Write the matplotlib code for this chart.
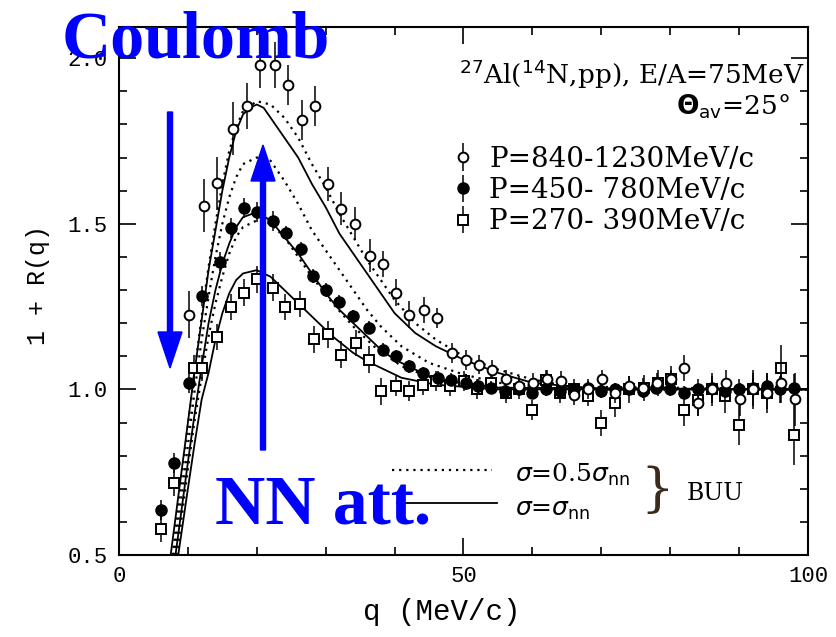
import matplotlib
matplotlib.use('Agg')
import matplotlib.pyplot as plt
from matplotlib.patches import FancyArrow
from matplotlib.transforms import IdentityTransform

W, H = 837, 637

# data: (q, 1+R(q), error)
q_hi = [10.1, 12.4, 14.2, 16.6, 18.6, 20.5, 22.7, 24.5, 26.5, 28.4, 30.3, 32.2, 34.2, 36.5, 38.3,
        40.2, 42.1, 44.3, 46.2, 48.3, 50.3, 52.3, 54.2, 56.1, 58.1, 60.1, 62.1, 64.2, 66.1, 68.1,
        70.1, 72.0, 74.0, 76.1, 78.1, 80.1, 82.0, 84.1, 86.0, 88.1, 90.1, 92.0, 94.0, 96.1, 98.1]
r_hi = [1.226, 1.555, 1.622, 1.787, 1.855, 1.979, 1.979, 1.918, 1.814, 1.855, 1.62, 1.545, 1.50,
        1.403, 1.378, 1.292, 1.226, 1.24, 1.216, 1.11, 1.09, 1.075, 1.06, 1.03, 1.01, 1.02, 1.03,
        1.024, 0.984, 1.0, 1.03, 0.99, 1.01, 1.004, 1.02, 1.03, 1.065, 0.96, 1.0, 1.02, 0.97, 1.0,
        0.99, 1.02, 0.97]
e_hi = [0.07, 0.08, 0.08, 0.08, 0.07, 0.07, 0.07, 0.06, 0.06, 0.06, 0.05, 0.05, 0.05, 0.05, 0.04,
        0.04, 0.04, 0.04, 0.03, 0.03, 0.03, 0.03, 0.03, 0.03, 0.03, 0.03, 0.03, 0.03, 0.03, 0.03,
        0.03, 0.03, 0.03, 0.03, 0.03, 0.03, 0.04, 0.04, 0.04, 0.04, 0.05, 0.05, 0.05, 0.06, 0.08]

q_mid = [6.1, 8.0, 10.1, 12.1, 14.6, 16.3, 18.1, 20.0, 22.3, 24.2, 26.4, 28.1, 30.1, 32.0, 34.0,
         36.3, 38.3, 40.2, 42.1, 44.1, 46.3, 48.2, 50.4, 52.1, 54, 56, 58, 60, 62, 64, 66, 68,
         70, 72, 74, 76, 78, 80, 82, 84, 86, 88, 90, 92, 94, 96, 98]
r_mid = [0.635, 0.777, 1.019, 1.282, 1.386, 1.488, 1.548, 1.536, 1.509, 1.473, 1.424, 1.342, 1.30,
         1.265, 1.221, 1.186, 1.12, 1.10, 1.07, 1.049, 1.034, 1.029, 1.019, 1.01, 1.005, 0.995,
         1.0, 0.99, 1.0, 0.995, 1.0, 1.005, 0.995, 1.0, 1.0, 0.995, 1.005, 1.0, 0.99, 1.0, 1.005,
         0.995, 1.0, 1.005, 1.01, 1.0, 1.005]
e_mid = [0.03, 0.03, 0.03, 0.03, 0.03, 0.03, 0.03, 0.03, 0.03, 0.02, 0.02, 0.02, 0.02, 0.02, 0.02,
         0.02, 0.02, 0.02, 0.02, 0.02, 0.02, 0.02, 0.02, 0.02, 0.02, 0.02, 0.02, 0.02, 0.02, 0.02,
         0.02, 0.02, 0.02, 0.02, 0.02, 0.02, 0.02, 0.02, 0.02, 0.03, 0.03, 0.03, 0.03, 0.03, 0.04,
         0.04, 0.04]

q_lo = [6.1, 8.0, 10.9, 12.1, 14.2, 16.3, 18.2, 20.1, 22.3, 24.1, 26.2, 28.3, 30.3, 32.2, 34.4,
        36.3, 38.0, 40.2, 42.1, 44.1, 46.0, 48.1, 50.1, 52.0, 54.0, 56.1, 58.0, 60.0, 62.0, 64.0,
        66.0, 68.0, 70.0, 72.0, 74.0, 76.2, 78.2, 80.1, 82.0, 84.0, 86.0, 88.0, 90.0, 92.0, 94.0,
        96.1, 98.0]
r_lo = [0.58, 0.717, 1.065, 1.065, 1.158, 1.248, 1.292, 1.332, 1.307, 1.248, 1.257, 1.151, 1.166,
        1.105, 1.14, 1.09, 0.994, 1.009, 0.994, 1.014, 1.024, 1.01, 1.024, 1.0, 1.02, 0.99, 1.0,
        0.938, 1.029, 0.99, 1.0, 0.98, 0.898, 0.958, 1.0, 1.004, 1.019, 1.03, 0.938, 0.969, 1.0,
        0.98, 0.893, 1.0, 0.99, 1.065, 0.863]
e_lo = [0.04, 0.04, 0.04, 0.04, 0.04, 0.04, 0.04, 0.04, 0.04, 0.04, 0.04, 0.04, 0.04, 0.04, 0.04,
        0.04, 0.04, 0.03, 0.03, 0.03, 0.03, 0.03, 0.03, 0.03, 0.03, 0.03, 0.03, 0.03, 0.03, 0.03,
        0.03, 0.03, 0.04, 0.04, 0.04, 0.04, 0.04, 0.04, 0.05, 0.05, 0.05, 0.05, 0.06, 0.06, 0.06,
        0.07, 0.09]

# BUU curves
qs_hi = [7.5, 8, 9, 10, 11, 12, 13, 14, 15, 16, 17, 18, 19, 20, 21, 22, 24, 26, 28, 30, 32, 34,
         36, 38, 40, 43, 46, 50, 55, 60, 65, 70, 100]
solid_hi = [0.5, 0.58, 0.74, 0.90, 1.06, 1.21, 1.36, 1.48, 1.60, 1.70, 1.78, 1.83, 1.85, 1.86,
            1.85, 1.82, 1.76, 1.70, 1.62, 1.55, 1.47, 1.41, 1.35, 1.29, 1.23, 1.17, 1.13, 1.09,
            1.05, 1.02, 1.01, 1.0, 1.0]
qd_hi = [7.8, 9, 10, 11, 12, 13, 14, 15, 16, 17, 18, 20, 22, 24, 26, 28, 30, 32, 34, 36, 38, 40,
         43, 46, 50, 55, 60, 65, 70, 100]
dot_hi = [0.5, 0.72, 0.89, 1.06, 1.22, 1.37, 1.50, 1.62, 1.72, 1.79, 1.84, 1.87, 1.86, 1.82,
          1.76, 1.68, 1.61, 1.53, 1.46, 1.39, 1.33, 1.27, 1.20, 1.15, 1.10, 1.06, 1.03, 1.01,
          1.0, 1.0]

qs_mid = [8.2, 10, 11, 12, 13, 14, 15, 16, 17, 18, 20, 22, 24, 26, 28, 30, 32, 34, 36, 38, 40,
          42, 45, 48, 55, 100]
solid_mid = [0.5, 0.78, 0.93, 1.07, 1.20, 1.30, 1.38, 1.44, 1.49, 1.52, 1.535, 1.51, 1.46, 1.41,
             1.35, 1.29, 1.24, 1.20, 1.16, 1.12, 1.09, 1.07, 1.04, 1.025, 1.005, 1.0]
qd_mid = [8.0, 10, 11, 12, 13, 14, 15, 16, 17, 18, 20, 22, 24, 26, 28, 31, 34, 36, 38, 41, 45,
          50, 55, 60, 100]
dot_mid = [0.5, 0.83, 1.0, 1.15, 1.28, 1.40, 1.50, 1.58, 1.64, 1.68, 1.70, 1.69, 1.63, 1.56,
           1.48, 1.39, 1.30, 1.24, 1.19, 1.13, 1.08, 1.045, 1.02, 1.01, 1.0]

qs_lo = [8.6, 10, 11, 12, 13, 14, 15, 16, 17, 18, 20, 22, 24, 26, 28, 31, 34, 36, 41, 46, 55, 100]
solid_lo = [0.5, 0.70, 0.84, 0.97, 1.05, 1.15, 1.23, 1.29, 1.33, 1.35, 1.36, 1.34, 1.30, 1.26,
            1.22, 1.16, 1.11, 1.085, 1.035, 1.014, 1.0, 1.0]
qd_lo = [8.4, 10, 11, 12, 13, 14, 15, 16, 17, 18, 20, 22, 24, 26, 28, 31, 34, 37, 41, 46, 55, 100]
dot_lo = [0.5, 0.76, 0.91, 1.04, 1.16, 1.26, 1.34, 1.41, 1.46, 1.49, 1.51, 1.50, 1.46, 1.40,
          1.34, 1.26, 1.19, 1.13, 1.07, 1.03, 1.005, 1.0]


def fx(x):
    return x / W


def fy(y):
    return 1 - y / H


fig = plt.figure(figsize=(W / 100, H / 100), dpi=100)
ax = fig.add_axes([fx(119), fy(555), (808 - 119) / W, (555 - 27) / H])

dots = (0, (1, 2.2))
for q, r in [(qs_hi, solid_hi), (qs_mid, solid_mid), (qs_lo, solid_lo)]:
    ax.plot(q, r, color='black', lw=1.3)
for q, r in [(qd_hi, dot_hi), (qd_mid, dot_mid), (qd_lo, dot_lo)]:
    ax.plot(q, r, color='black', lw=1.6, ls=dots)

ax.errorbar(q_lo, r_lo, yerr=e_lo, fmt='s', ms=6.5, mfc='white', mec='black', mew=1.4,
            ecolor='black', elinewidth=1.1, capsize=0, label='P=270- 390MeV/c', zorder=3)
ax.errorbar(q_mid, r_mid, yerr=e_mid, fmt='o', ms=8, mfc='black', mec='black',
            ecolor='black', elinewidth=1.1, capsize=0, label='P=450- 780MeV/c', zorder=4)
ax.errorbar(q_hi, r_hi, yerr=e_hi, fmt='o', ms=7, mfc='white', mec='black', mew=1.4,
            ecolor='black', elinewidth=1.1, capsize=0, label='P=840-1230MeV/c', zorder=5)

ax.set_xlim(0, 100)
ax.set_ylim(0.5, 2.094)
ax.set_xticks([0, 50, 100])
ax.set_xticks(range(0, 101, 10), minor=True)
ax.set_yticks([0.5, 1.0, 1.5, 2.0])
ax.set_yticklabels(['0.5', '1.0', '1.5', '2.0'])
ax.set_yticks([0.5 + 0.1 * i for i in range(16)], minor=True)
ax.tick_params(which='both', direction='in', top=True, right=True, width=1.2)
ax.tick_params(which='major', length=12, labelsize=16, pad=8)
ax.tick_params(which='minor', length=6)
for s in ax.spines.values():
    s.set_linewidth(1.5)
for lab in ax.get_xticklabels() + ax.get_yticklabels():
    lab.set_family('Liberation Mono')

fig.text(fx(442), fy(612), 'q (MeV/c)', family='Liberation Mono', fontsize=21,
         ha='center', va='center')
fig.text(fx(38), fy(285), '1 + R(q)', family='Liberation Mono', fontsize=18,
         ha='center', va='center', rotation=90)

# top-right annotation and legend
fig.text(fx(805), fy(74), r'$^{27}$Al($^{14}$N,pp), E/A=75MeV', family='DejaVu Serif',
         fontsize=19, ha='right', va='center')
fig.text(fx(790), fy(106), r'$\mathbf{\Theta}_{\rm av}$=25°', family='DejaVu Serif',
         fontsize=19, ha='right', va='center')
h, l = ax.get_legend_handles_labels()
ax.legend(h[::-1], l[::-1], loc='upper left', bbox_to_anchor=(fx(428), fy(121)),
          bbox_transform=fig.transFigure, frameon=False, handlelength=0.7, handletextpad=0.6,
          labelspacing=0.15, prop={'family': 'DejaVu Serif', 'size': 20})

# BUU key
ax.plot([fx(392), fx(492)], [fy(470), fy(470)], transform=fig.transFigure, color='black',
        lw=1.6, ls=dots)
ax.plot([fx(397), fx(497)], [fy(503), fy(503)], transform=fig.transFigure, color='black', lw=1.3)
fig.text(fx(515), fy(475), r'$\sigma$=0.5$\sigma_{\rm nn}$', family='DejaVu Serif', fontsize=18,
         va='center')
fig.text(fx(515), fy(510), r'$\sigma$=$\sigma_{\rm nn}$', family='DejaVu Serif', fontsize=18,
         va='center')
fig.text(fx(657), fy(490), '}', family='DejaVu Serif', fontsize=38, va='center', ha='center',
         color='#3b2b1b')
fig.text(fx(687), fy(493), 'BUU', family='DejaVu Serif', fontsize=17, va='center')

# blue annotations
fig.text(fx(62), fy(58), 'Coulomb', family='Liberation Serif', weight='bold', fontsize=49,
         color='blue', va='baseline', zorder=10)
fig.text(fx(215), fy(523), 'NN att.', family='Liberation Serif', weight='bold', fontsize=50,
         color='blue', va='baseline', zorder=10)
fig.add_artist(FancyArrow(170, H - 112, 0, -(368 - 112), width=5, head_width=24, head_length=36,
                          length_includes_head=True, color='blue', transform=IdentityTransform()))
fig.add_artist(FancyArrow(263, H - 450, 0, 450 - 145, width=5, head_width=24, head_length=36,
                          length_includes_head=True, color='blue', transform=IdentityTransform()))

fig.savefig('out.png', dpi=100)
